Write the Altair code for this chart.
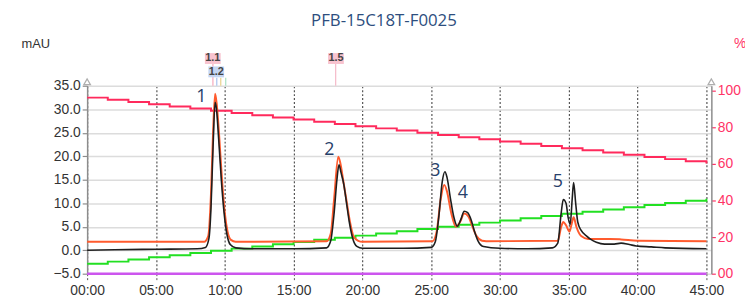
import altair as alt
import pandas as pd

# ---------------- data ----------------
black_t = [0, 2, 5, 8, 8.6, 8.85, 9.0, 9.15, 9.3, 9.4, 9.55, 9.75, 9.95, 10.15, 10.4, 10.8, 12, 15,
           17.4, 17.7, 17.95, 18.15, 18.3, 18.45, 18.65, 18.85, 19.05, 19.3, 19.6, 20, 23,
           25.0, 25.3, 25.55, 25.8, 26.0, 26.15, 26.4, 26.65, 26.9, 27.15, 27.4, 27.65, 27.9, 28.15, 28.4, 28.8, 30, 32,
           33.8, 34.2, 34.45, 34.6, 34.8, 34.95, 35.1, 35.25, 35.35, 35.5, 35.65, 35.9, 36.3, 36.6, 37.0, 37.6,
           38.3, 38.8, 39.4, 39.9, 41, 42, 45]
black_v = [0.0, 0.1, 0.2, 0.3, 0.6, 2.5, 9, 22, 31.5, 30, 24, 15, 8, 3.5, 1.2, 0.5, 0.3, 0.3,
           0.5, 2, 8, 15, 18.2, 16.5, 14, 10, 6, 2.5, 0.8, 0.4, 0.4,
           0.6, 1.8, 7, 14.5, 16.7, 15.5, 11, 7, 5.1, 6.5, 8.3, 8.0, 6.5, 4, 2, 0.8, 0.4, 0.3,
           0.5, 1.5, 8, 10.8, 10.0, 7, 5.5, 11, 14.4, 10, 6, 4.2, 3.0, 2.3, 1.7, 1.3,
           1.3, 1.5, 1.2, 0.9, 0.7, 0.5, 0.3]

orange_t = [0, 8.5, 8.8, 9.0, 9.15, 9.3, 9.42, 9.6, 9.8, 10.0, 10.2, 10.45, 10.8,
            17.4, 17.7, 17.95, 18.25, 18.4, 18.6, 18.85, 19.1, 19.35, 19.7, 20,
            25.1, 25.4, 25.7, 25.95, 26.15, 26.45, 26.8, 27.1, 27.4, 27.7, 28.0, 28.3, 28.7, 29,
            34.2, 34.45, 34.6, 34.8, 35.05, 35.2, 35.35, 35.55, 35.9, 36.4, 38, 38.8, 40, 45]
orange_v = [1.8, 1.8, 3, 12, 25, 33.3, 31, 24, 15, 8, 4, 2.2, 1.8,
            1.9, 3.5, 11, 19.9, 18.5, 15, 10.5, 6, 3, 2, 1.8,
            1.9, 4, 11, 13.9, 12.5, 8, 5, 6, 7.8, 7.2, 5, 3, 2, 1.9,
            2, 5, 6, 5.3, 4, 5.5, 7, 5, 3, 2.4, 2.4, 2.3, 2.0, 1.9]

grad_t = [0, 1.5, 3, 4.5, 6, 7.5, 9, 10.5, 12, 13.5, 15, 16.5, 18, 19.5, 21, 22.5, 24, 25.5,
          27, 28.5, 30, 31.5, 33, 34.5, 36, 37.5, 39, 40.5, 42, 43.5, 45]
pink_pct = [96.2, 95.0, 93.8, 92.6, 91.4, 90.2, 89.0, 87.8, 86.6, 85.4, 84.2, 83.0, 81.8, 80.6, 79.4, 78.2,
            77.0, 75.8, 74.6, 73.4, 72.2, 71.0, 69.8, 68.6, 67.4, 66.2, 65.0, 63.8, 62.6, 61.4, 60.2]
green_pct = [5.4, 6.6, 7.8, 9.0, 10.1, 11.3, 12.5, 13.7, 14.9, 16.1, 17.3, 18.5, 19.6, 20.8, 22.0, 23.2,
             24.4, 25.6, 26.8, 27.9, 29.1, 30.3, 31.5, 32.7, 33.9, 35.1, 36.3, 37.5, 38.6, 39.8, 41.0]
purple_t = [0, 45]
purple_pct = [0, 0]

peak_lbl = ["1", "2", "3", "4", "5"]
peak_t = [8.3, 17.6, 25.3, 27.3, 34.2]
peak_v = [32.6, 21.4, 16.8, 12.1, 14.4]

marker_lbl = ["1.1", "1.2", "1.5"]
marker_t = [9.13, 9.38, 18.08]
marker_row = [-27.5, -14, -27.5]
marker_fill = ["#f8c3cf", "#c5d6f3", "#f8c3cf"]

tick_t = [9.14, 9.42, 9.71, 10.07, 18.06]
tick_top = [-22, -8, -8, -8, -22]
tick_col = ["#f5a9bb", "#a9c2ee", "#e9d28a", "#a8e0c4", "#f5b9c8"]

title_text = "PFB-15C18T-F0025"

# ---------------- frames ----------------
black_df = pd.DataFrame({"t": black_t, "v": black_v})
orange_df = pd.DataFrame({"t": orange_t, "v": orange_v})
pink_df = pd.DataFrame({"t": grad_t, "p": pink_pct})
green_df = pd.DataFrame({"t": grad_t, "p": green_pct})
purple_df = pd.DataFrame({"t": purple_t, "p": purple_pct})
peak_df = pd.DataFrame({"lbl": peak_lbl, "t": peak_t, "v": peak_v})
marker_df = pd.DataFrame({"lbl": marker_lbl, "t": marker_t, "row": marker_row, "fill": marker_fill})
tick_df = pd.DataFrame({"t": tick_t, "top": tick_top, "col": tick_col})

W, H = 631, 190
XMAX = 45.36

xaxis = alt.Axis(
    values=[0, 5, 10, 15, 20, 25, 30, 35, 40, 45],
    labelExpr="(datum.value < 10 ? '0' : '') + datum.value + ':00'",
    grid=True, gridColor="#555555", gridDash=[2, 2], gridWidth=1.2,
    domain=False, ticks=True, tickColor="#555555", tickDash=[2, 2], tickSize=6,
    labelFont="Liberation Sans", labelFontSize=14, labelColor="#333333", labelPadding=4,
    labelFlush=False, labelOverlap=False,
    title=None,
)
X = alt.X("t:Q", scale=alt.Scale(domain=[0, XMAX], nice=False, zero=False), axis=xaxis)

lyaxis = alt.Axis(
    values=[-5, 0, 5, 10, 15, 20, 25, 30, 35], format=".1f",
    grid=True, gridColor="#dcdcdc", gridWidth=1.5,
    domain=True, domainColor="#8c8c8c", domainWidth=1.5,
    tickColor="#8c8c8c", tickSize=5, tickWidth=1.2,
    labelFont="Liberation Sans", labelFontSize=14, labelColor="#333333", labelPadding=2,
    labelFlush=False, labelOverlap=False,
    title=None, orient="left",
)
YL = alt.Y("v:Q", scale=alt.Scale(domain=[-5, 35], nice=False, zero=False), axis=lyaxis)

ryaxis = alt.Axis(
    values=[0, 20, 40, 60, 80, 100], format="d",
    labelExpr="datum.value == 0 ? '00' : datum.label",
    grid=False, domain=True, domainColor="#8c8c8c", domainWidth=1.5,
    tickColor="#ff3366", tickSize=4, tickWidth=1.2,
    labelFont="Liberation Sans", labelFontSize=14, labelColor="#ff3366", labelPadding=2,
    labelFlush=False, labelOverlap=False,
    title=None, orient="right",
)
YR = alt.Y("p:Q", scale=alt.Scale(domain=[0, 102.7], nice=False, zero=False), axis=ryaxis)

# right-scale (gradient) layers
purple = alt.Chart(purple_df).mark_line(color="#cc55ee", strokeWidth=2.5).encode(x=X, y=YR)
pink = alt.Chart(pink_df).mark_line(color="#ff2a5c", strokeWidth=2, interpolate="step-after").encode(x=X, y=YR)
green = alt.Chart(green_df).mark_line(color="#22e022", strokeWidth=2, interpolate="step-after").encode(x=X, y=YR)
right_group = alt.layer(purple, pink, green)

# left-scale (mAU) layers
orange = alt.Chart(orange_df).mark_line(color="#ff5b2e", strokeWidth=2, interpolate="monotone").encode(x=X, y=YL)
black = alt.Chart(black_df).mark_line(color="#1e1e1e", strokeWidth=1.6, interpolate="monotone").encode(x=X, y=YL)
peaks = alt.Chart(peak_df).mark_text(font="Open Sans", fontSize=18, color="#27406a").encode(
    x=X, y=YL, text="lbl:N")
left_group = alt.layer(orange, black, peaks)

# annotations in pixel space
ticks = alt.Chart(tick_df).mark_rule(strokeWidth=1.2).encode(
    x=X, y=alt.Y("top:Q", scale=None), y2=alt.value(0), color=alt.Color("col:N", scale=None))
boxes = alt.Chart(marker_df).mark_point(
    shape="M-1.45,-1L1.45,-1L1.45,1L-1.45,1Z", size=121, filled=True, opacity=1, strokeWidth=0
).encode(x=X, y=alt.Y("row:Q", scale=None), fill=alt.Fill("fill:N", scale=None))
box_text = alt.Chart(marker_df).mark_text(font="Liberation Sans", fontSize=11, fontWeight="bold",
                                          color="#444444").encode(
    x=X, y=alt.Y("row:Q", scale=None), text="lbl:N")

one = pd.DataFrame({"a": [0]})
title = alt.Chart(one).mark_text(text=title_text, font="Open Sans", fontSize=17, color="#2d4e7e").encode(
    x=alt.value(300), y=alt.value(-65))
mau = alt.Chart(one).mark_text(text="mAU", font="Liberation Sans", fontSize=13, color="#333333").encode(
    x=alt.value(-52), y=alt.value(-42))
pct = alt.Chart(one).mark_text(text="%", font="Liberation Sans", fontSize=14, color="#ff3366").encode(
    x=alt.value(660), y=alt.value(-42))
tri_l = alt.Chart(one).mark_point(shape="triangle-up", size=45, filled=True, fill="white",
                                  stroke="#8c8c8c", strokeWidth=1.2).encode(x=alt.value(0), y=alt.value(-4))
tri_r = alt.Chart(one).mark_point(shape="triangle-up", size=45, filled=True, fill="white",
                                  stroke="#8c8c8c", strokeWidth=1.2).encode(x=alt.value(W), y=alt.value(-4))

chart = alt.layer(
    right_group, left_group, ticks, boxes, box_text, title, mau, pct, tri_l, tri_r
).resolve_scale(y="independent").properties(
    width=W, height=H,
    autosize=alt.AutoSizeParams(type="none"),
    padding={"left": 80, "top": 77, "right": 34, "bottom": 24},
).configure_view(stroke=None)

chart.save("out.html", embed_options={"renderer": "svg", "actions": False})
